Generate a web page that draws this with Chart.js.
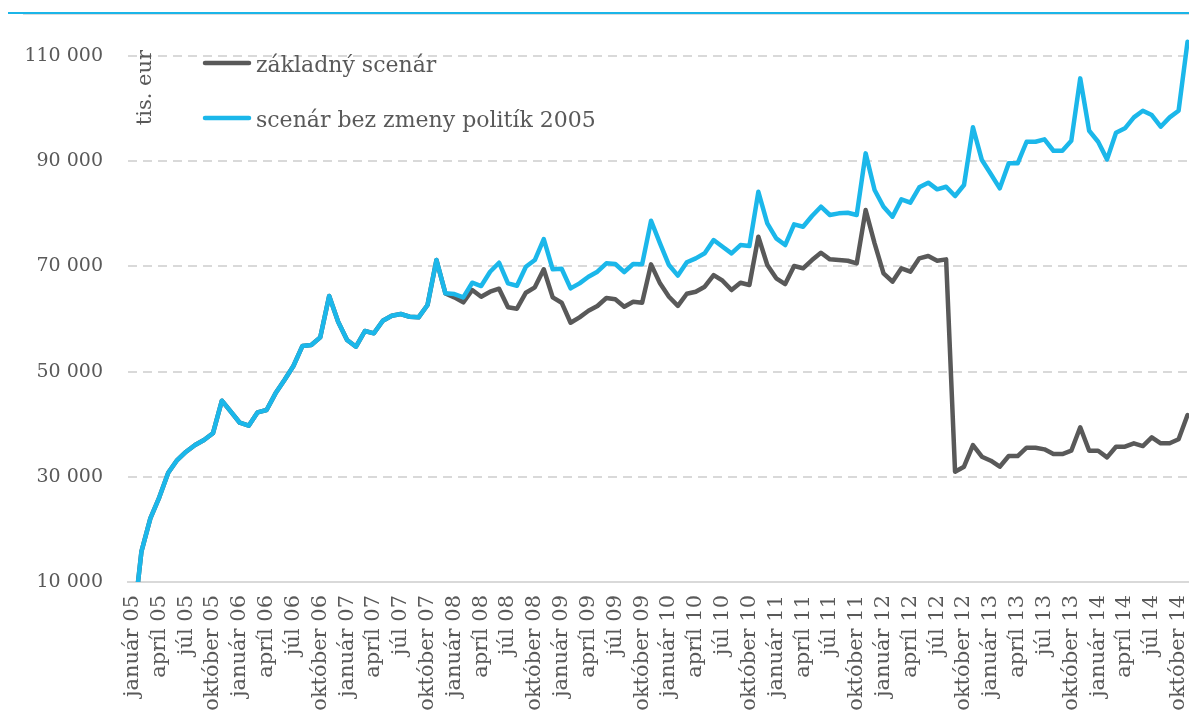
<!DOCTYPE html>
<html lang="sk">
<head>
<meta charset="utf-8">
<title>Scenáre</title>
<script src="https://cdn.jsdelivr.net/npm/chart.js@4.4.1/dist/chart.umd.min.js"></script>
<style>
	html, body { margin: 0; padding: 0; background: #fff; overflow: hidden; }
	#wrap { position: relative; width: 1192px; height: 720px; }
	#topline { position: absolute; left: 8px; right: 0; top: 12px; height: 2px; background: #1bb5e8; }
	#topline2 { position: absolute; left: 23px; right: 0; top: 14px; height: 1px; background: #dcdcdc; }
</style>
</head>
<body>
<div id="wrap">
	<canvas id="chart"></canvas>
	<div id="topline"></div>
	<div id="topline2"></div>
</div>
<script>
const CHART = document.getElementById("chart");
const TEXT_COLOR = "#595959";
const GRID_COLOR = "#d9d9d9";
const FONT = "'DejaVu Serif', serif";

const months = ["január", "február", "marec", "apríl", "máj", "jún", "júl", "august", "september", "október", "november", "december"];
const years = ["05", "06", "07", "08", "09", "10", "11", "12", "13", "14"];
const yTicks = [10000, 30000, 50000, 70000, 90000, 110000];
const yTitle = "tis. eur";

const baseLabel = "základný scenár";
const noChangeLabel = "scenár bez zmeny politík 2005";

// monthly values, január 05 .. november 14 (the picture is cut before december 14)
const baseScenario = [
	500, 15760, 22110, 26100, 30780, 33190, 34770, 36040, 37000, 38270, 44470, 42380,
	40280, 39710, 42260, 42700, 45870, 48400, 51060, 54860, 55050, 56510, 64370, 59480,
	56000, 54730, 57720, 57280, 59670, 60630, 60950, 60430, 60320, 62660, 71210, 64880,
	64120, 63170, 65510, 64240, 65190, 65760, 62220, 61960, 65000, 66020, 69450, 64120,
	63100, 59290, 60320, 61570, 62470, 63990, 63740, 62340, 63290, 63100, 70390, 66780,
	64240, 62500, 64800, 65190, 66140, 68360, 67280, 65510, 66900, 66460, 75640, 70260,
	67730, 66650, 70070, 69640, 71210, 72600, 71340, 71210, 71080, 70580, 80720, 74380,
	68680, 67090, 69640, 68990, 71530, 71970, 71080, 71340, 30970, 31920, 36040, 33820,
	33060, 31920, 33950, 33950, 35530, 35530, 35220, 34330, 34330, 34960, 39410, 34960,
	34960, 33700, 35720, 35720, 36370, 35850, 37510, 36370, 36370, 37130, 41750,
];

const noChangeScenario = [
	500, 15760, 22110, 26100, 30780, 33190, 34770, 36040, 37000, 38270, 44470, 42380,
	40280, 39710, 42260, 42700, 45870, 48400, 51060, 54860, 55050, 56510, 64370, 59480,
	56000, 54730, 57720, 57280, 59670, 60630, 60950, 60430, 60320, 62660, 71210, 64880,
	64750, 64120, 66900, 66270, 68990, 70700, 66780, 66330, 69940, 71210, 75200, 69450,
	69560, 65830, 66780, 68040, 68990, 70580, 70450, 68930, 70450, 70390, 78680, 74380,
	70260, 68250, 70800, 71530, 72490, 75010, 73740, 72490, 74060, 73870, 84190, 78180,
	75330, 74060, 77990, 77540, 79580, 81350, 79770, 80090, 80210, 79770, 91490, 84520,
	81350, 79450, 82750, 82110, 85030, 85920, 84650, 85150, 83380, 85470, 96440, 90220,
	87560, 84840, 89590, 89590, 93700, 93700, 94150, 91990, 91990, 93890, 105750, 95790,
	93700, 90350, 95410, 96250, 98340, 99600, 98780, 96560, 98340, 99600, 112710,
];

const labels = [];
years.forEach((y) => months.forEach((m) => labels.push(m + " " + y)));
labels.length = noChangeScenario.length;

const formatThousands = (v) => String(v).replace(/\B(?=(\d{3})+(?!\d))/g, " ");

// legend and axis title sit inside the plot area in the original
const insideLegend = {
	id: "insideLegend",
	afterDraw(chart) {
		const ctx = chart.ctx;
		const area = chart.chartArea;
		ctx.save();
		ctx.fillStyle = TEXT_COLOR;
		ctx.font = "22px " + FONT;
		ctx.textBaseline = "alphabetic";
		chart.data.datasets.forEach((ds, i) => {
			const y = area.top + 63 + i * 55;
			ctx.strokeStyle = ds.borderColor;
			ctx.lineWidth = 4.5;
			ctx.lineCap = "round";
			ctx.beginPath();
			ctx.moveTo(area.left + 77, y);
			ctx.lineTo(area.left + 121, y);
			ctx.stroke();
			ctx.fillText(ds.label, area.left + 128, y + 9);
		});
		ctx.translate(area.left + 23, area.top + 50);
		ctx.rotate(-Math.PI / 2);
		ctx.textAlign = "right";
		ctx.font = "21px " + FONT;
		ctx.fillText(yTitle, 0, 0);
		ctx.restore();
	},
};

new Chart(CHART.getContext("2d"), {
	type: "line",
	data: {
		labels: labels,
		datasets: [
			{
				label: baseLabel,
				data: baseScenario,
				borderColor: "#595959",
				borderWidth: 4.5,
				order: 1,
			},
			{
				label: noChangeLabel,
				data: noChangeScenario,
				borderColor: "#1bb7ea",
				borderWidth: 4.5,
				order: 0,
			},
		],
	},
	options: {
		responsive: true,
		maintainAspectRatio: false,
		animation: false,
		layout: { padding: 0 },
		elements: {
			point: { radius: 0 },
			line: { tension: 0, borderJoinStyle: "round", borderCapStyle: "round" },
		},
		plugins: {
			legend: { display: false },
			tooltip: { enabled: false },
		},
		scales: {
			x: {
				type: "category",
				offset: true,
				grid: { display: false, drawTicks: false },
				border: { display: true, color: GRID_COLOR, width: 2 },
				ticks: {
					autoSkip: false,
					minRotation: 90,
					maxRotation: 90,
					padding: 13,
					color: TEXT_COLOR,
					font: { family: FONT, size: 21 },
					callback: function (value, index) {
						return index % 3 === 0 ? this.getLabelForValue(value) : null;
					},
				},
				afterFit: (scale) => {
					scale.height = 138;
					scale.paddingLeft = 0;
					scale.paddingRight = 0;
				},
			},
			y: {
				min: 10000,
				max: 120650,
				border: { display: false, dash: [9, 6] },
				grid: {
					color: GRID_COLOR,
					lineWidth: 2,
					drawTicks: false,
				},
				ticks: {
					padding: 25,
					color: TEXT_COLOR,
					font: { family: FONT, size: 19 },
					callback: (value) => formatThousands(value),
				},
				afterBuildTicks: (scale) => {
					scale.ticks = yTicks.map((v) => ({ value: v }));
				},
				afterFit: (scale) => {
					scale.width = 128;
					scale.paddingTop = 0;
					scale.paddingBottom = 0;
				},
			},
		},
	},
	plugins: [insideLegend],
});
</script>
</body>
</html>
